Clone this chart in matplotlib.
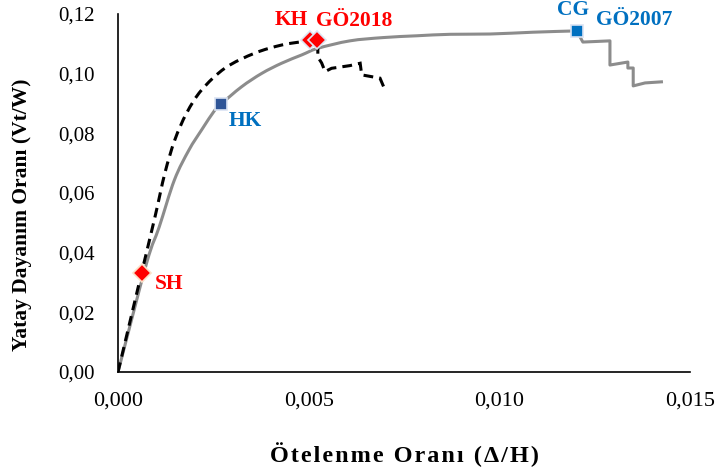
import numpy as np
import matplotlib
matplotlib.use("Agg")
import matplotlib.pyplot as plt
from matplotlib.path import Path
from matplotlib.patches import PathPatch
from matplotlib.ticker import FixedLocator, FuncFormatter

# GÖ2007 capacity curve (drift ratio, base shear ratio)
go2007_x = [0.0, 0.00075, 0.00108, 0.00148, 0.00186, 0.00219, 0.00254, 0.00270,
            0.00324, 0.00377, 0.00429, 0.00482, 0.00524, 0.00608, 0.00695, 0.00783,
            0.00871, 0.00976, 0.01088, 0.01190, 0.01203, 0.01219, 0.01290,
            0.01290, 0.01337, 0.01337, 0.01351, 0.01351, 0.01382, 0.01429]
go2007_y = [0.0, 0.0365, 0.0486, 0.0644, 0.0744, 0.0811, 0.0878, 0.0898,
            0.0956, 0.1001, 0.1035, 0.1063, 0.1085, 0.1110, 0.1121, 0.1127,
            0.1132, 0.1133, 0.1139, 0.1143, 0.1143, 0.1106, 0.1110,
            0.1029, 0.1039, 0.1019, 0.1019, 0.0959, 0.0969, 0.0973]
go2007_peak_idx = 20          # last point of the smooth ascending branch

# GÖ2018 capacity curve
go2018_x = [0.0, 0.00062, 0.00097, 0.00123, 0.00149, 0.00180, 0.00219, 0.00281,
            0.00359, 0.00429, 0.00482, 0.00521, 0.00524, 0.00524, 0.00534, 0.00543,
            0.00560, 0.00608, 0.00635, 0.00639, 0.00665, 0.00687, 0.00698]
go2018_y = [0.0, 0.0333, 0.0520, 0.0667, 0.0778, 0.0868, 0.0945, 0.1019,
            0.1069, 0.1096, 0.1107, 0.1113, 0.1086, 0.1056, 0.1036, 0.1007,
            0.1018, 0.1027, 0.1035, 0.0996, 0.0990, 0.0985, 0.0952]
go2018_peak_idx = 11

# Performance level points
red_pts_x = [0.00062, 0.00503, 0.00521]   # SH, KH, GÖ2018 peak
red_pts_y = [0.0333, 0.1113, 0.1113]
hk_x, hk_y = 0.00270, 0.0898
cg_x, cg_y = 0.01203, 0.1143

x_ticks = [0.0, 0.005, 0.010, 0.015]
y_ticks = [0.0, 0.02, 0.04, 0.06, 0.08, 0.10, 0.12]


def curve_path(xs, ys, n_smooth):
    """Smoothed (Catmull-Rom Bezier) branch up to n_smooth, straight segments after."""
    pts = np.column_stack([xs, ys]).astype(float)
    verts = [pts[0]]
    codes = [Path.MOVETO]
    for i in range(n_smooth):
        p0 = pts[i - 1] if i > 0 else pts[i]
        p1, p2 = pts[i], pts[i + 1]
        p3 = pts[i + 2] if i + 2 <= n_smooth else pts[i + 1]
        verts += [p1 + (p2 - p0) / 6.0, p2 - (p3 - p1) / 6.0, p2]
        codes += [Path.CURVE4] * 3
    for p in pts[n_smooth + 1:]:
        verts.append(p)
        codes.append(Path.LINETO)
    return Path(np.array(verts), codes)


serif = ["Liberation Serif", "DejaVu Serif"]
plt.rcParams["font.family"] = serif

fig = plt.figure(figsize=(7.23, 4.75), dpi=100)
ax = fig.add_axes([0.1632, 0.2168, 0.7912, 0.7537])

ax.add_patch(PathPatch(curve_path(go2007_x, go2007_y, go2007_peak_idx),
                       fill=False, edgecolor="#8c8c8c", lw=2.2,
                       joinstyle="round", zorder=2))
dashed = PathPatch(curve_path(go2018_x, go2018_y, go2018_peak_idx),
                   fill=False, edgecolor="black", lw=2.2, zorder=3)
dashed.set_linestyle((0, (3.2, 2.0)))
ax.add_patch(dashed)

ax.plot(red_pts_x[0], red_pts_y[0], marker="D", ms=9, color="#ff0000",
        mec="#fbe0c8", mew=1.2, ls="none", zorder=5)
ax.plot(red_pts_x[1:], red_pts_y[1:], marker="D", ms=9, color="#ff0000",
        mec="#dce6f2", mew=1.2, ls="none", zorder=5)
ax.plot(hk_x, hk_y, marker="s", ms=8, color="#2f5597", mec="#dae3f3",
        mew=1.2, ls="none", zorder=5)
ax.plot(cg_x, cg_y, marker="s", ms=8, color="#0070c0", mec="#dae3f3",
        mew=1.2, ls="none", zorder=5)

lab = dict(fontsize=15.5, fontweight="bold", family=serif)
ax.text(0.00097, 0.0295, "SH", color="#ff0000", ha="left", va="center", **lab)
ax.text(0.00454, 0.1180, "KH", color="#ff0000", ha="center", va="center", **lab)
ax.text(0.00619, 0.1177, "GÖ2018", color="#ff0000", ha="center", va="center", **lab)
ax.text(0.00333, 0.0840, "HK", color="#0070c0", ha="center", va="center", **lab)
ax.text(0.01193, 0.1213, "CG", color="#0070c0", ha="center", va="center", **lab)
ax.text(0.01353, 0.1180, "GÖ2007", color="#0070c0", ha="center", va="center", **lab)

ax.set_xlim(0, 0.015)
ax.set_ylim(0, 0.12)
ax.xaxis.set_major_locator(FixedLocator(x_ticks))
ax.yaxis.set_major_locator(FixedLocator(y_ticks))
ax.xaxis.set_major_formatter(FuncFormatter(lambda v, p: f"{v:.3f}".replace(".", ",")))
ax.yaxis.set_major_formatter(FuncFormatter(lambda v, p: f"{v:.2f}".replace(".", ",")))
ax.tick_params(length=0)
ax.tick_params(axis="x", pad=14, labelsize=16)
ax.tick_params(axis="y", pad=17, labelsize=15)

for s in ("top", "right"):
    ax.spines[s].set_visible(False)
for s in ("left", "bottom"):
    ax.spines[s].set_linewidth(1.2)

xlabel = "\u200a".join("Ötelenme Oranı (Δ/H)")
ax.set_xlabel(xlabel, fontsize=17.5, fontweight="bold", va="center")
ax.xaxis.set_label_coords(0.5, -0.232)
ax.set_ylabel("Yatay Dayanım Oranı (Vt/W)", fontsize=15.5, fontweight="bold",
              va="center")
ax.yaxis.set_label_coords(-0.168, 0.4385)

fig.savefig("out.png", dpi=100)
